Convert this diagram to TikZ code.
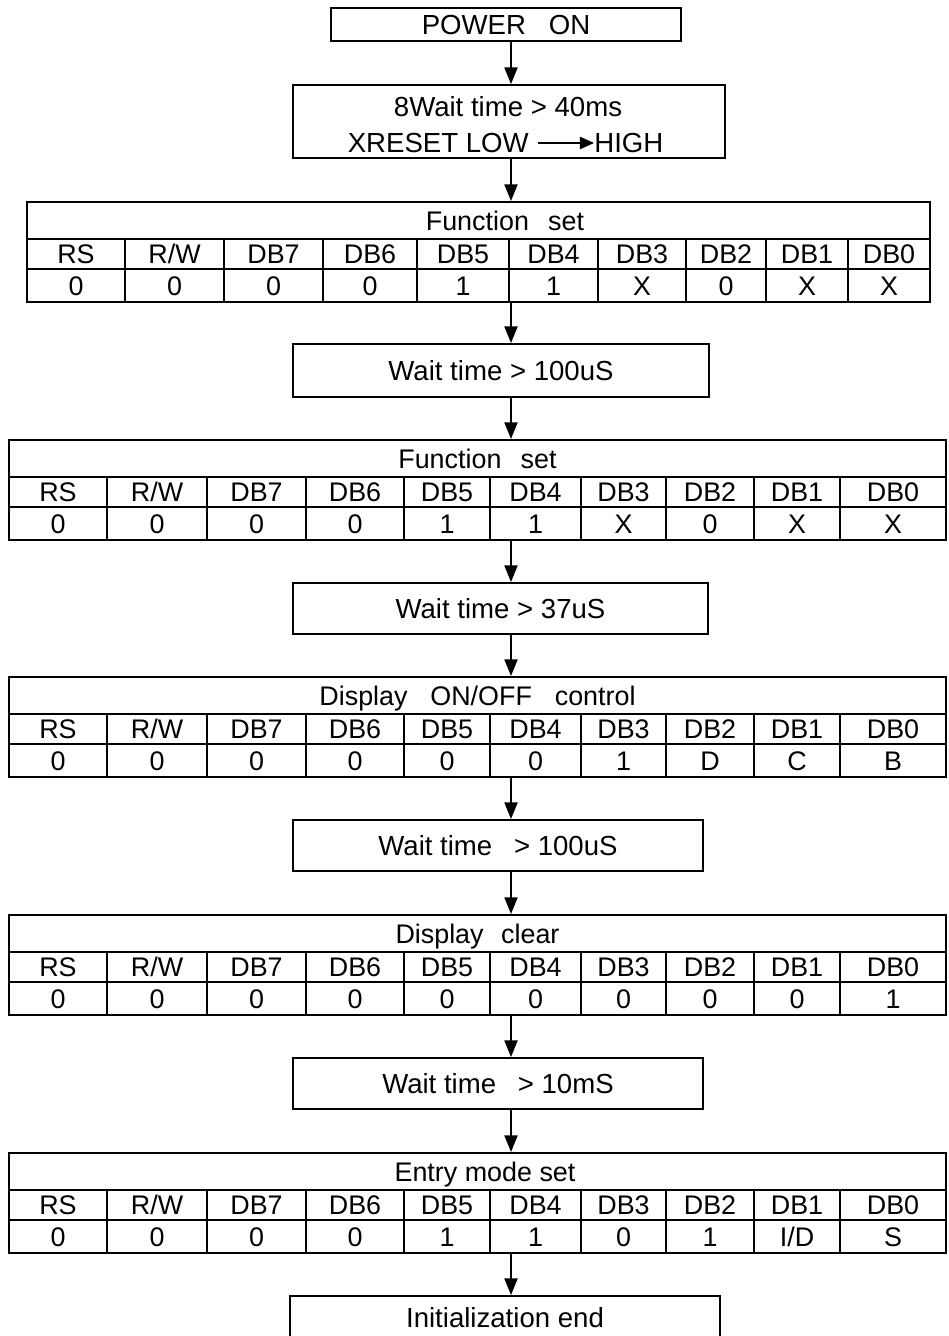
\documentclass[tikz,border=0pt]{standalone}
\usepackage{fontspec}
\setmainfont{Liberation Sans}
\usetikzlibrary{arrows.meta}
\tikzset{
  box/.style={draw, line width=1.1pt, inner sep=0pt, text height=11.2pt, text depth=0pt},
  txt/.style={inner sep=0pt, text height=11.2pt, text depth=0pt},
  cell/.style={draw, line width=0.7pt, inner sep=0pt, text height=10.9pt, text depth=0pt, font=\fontsize{15.3}{18}\selectfont},
  frame/.style={draw, line width=1.2pt, inner sep=0pt},
  flow/.style={line width=0.9pt, -{Triangle[length=9.5pt,width=7.5pt]}},
  xarrow/.style={line width=0.8pt, -{Triangle[length=8pt,width=7pt]}},
}
\newcommand\mktable[6]{%
  % #1 name, #2 top, #3 column bounds, #4 header text, #5 header x, #6 values
  \pgfmathsetmacro\tL{{#3}[0]}
  \pgfmathsetmacro\tR{{#3}[10]}
  \pgfmathsetmacro\tC{(\tL+\tR)/2}
  \pgfmathsetmacro\tW{(\tR-\tL)*0.02}
  \node[cell, minimum width=\tW cm, minimum height=0.74cm] (#1-h) at (\tC,#2+18.5) {};
  \node[txt, font=\fontsize{15.3}{18}\selectfont] (#1-ht) at (#5,#2+19) {#4};
  \foreach \lab [count=\i from 0] in {RS,R/W,DB7,DB6,DB5,DB4,DB3,DB2,DB1,DB0}{
    \pgfmathsetmacro\xa{{#3}[\i]}
    \pgfmathsetmacro\xb{{#3}[\i+1]}
    \pgfmathsetmacro\xm{(\xa+\xb)/2}
    \pgfmathsetmacro\cw{(\xb-\xa)*0.02}
    \node[cell, minimum width=\cw cm, minimum height=0.6cm] (#1-l\i) at (\xm,#2+52) {\lab};
  }
  \foreach \val [count=\i from 0] in {#6}{
    \pgfmathsetmacro\xa{{#3}[\i]}
    \pgfmathsetmacro\xb{{#3}[\i+1]}
    \pgfmathsetmacro\xm{(\xa+\xb)/2}
    \pgfmathsetmacro\cw{(\xb-\xa)*0.02}
    \node[cell, minimum width=\cw cm, minimum height=0.66cm] (#1-v\i) at (\xm,#2+83.5) {\val};
  }
  \node[frame, minimum width=\tW cm, minimum height=2cm] (#1) at (\tC,#2+50) {};
}
\begin{document}
\begin{tikzpicture}[x=0.02cm, y=-0.02cm, every node/.append style={font=\fontsize{15.7}{19}\selectfont}]
\useasboundingbox (0,0) rectangle (948,1336);
\coordinate (ax) at (511,0);

\node[box, minimum width=7cm, minimum height=0.66cm] (pon) at (506,24.5) {POWER\hspace*{13pt}ON};

\node[box, minimum width=8.64cm, minimum height=1.46cm] (rst) at (509,121.5) {};
\node[txt] (rst1) at (508,107) {8Wait time > 40ms};
\node[txt, anchor=east] (rstlo) at (529,143) {XRESET LOW};
\node[txt, anchor=west] (rsthi) at (594,143) {HIGH};
\draw[xarrow] ([xshift=5pt]rstlo.east) -- (rsthi.west);

\mktable{t1}{202}{27,125,224,323,417,509,598,686,766,848,930}{Function\hspace*{11pt}set}{505}{0,0,0,0,1,1,X,0,X,X}

\node[box, minimum width=8.32cm, minimum height=1.06cm] (w1) at (501,370.5) {Wait time > 100uS};

\mktable{t2}{440}{9,107,207,306,404,490,581,666,754,840,946}{Function\hspace*{11pt}set}{477.5}{0,0,0,0,1,1,X,0,X,X}

\node[box, minimum width=8.3cm, minimum height=1.02cm] (w2) at (500.5,608.5) {Wait time > 37uS};

\mktable{t3}{677}{9,107,207,306,404,490,581,666,754,840,946}{Display\hspace*{13pt}ON/OFF\hspace*{13pt}control}{477.5}{0,0,0,0,0,0,1,D,C,B}

\node[box, minimum width=8.2cm, minimum height=1.02cm] (w3) at (498,845.5) {Wait time\hspace*{8pt} > 100uS};

\mktable{t4}{915}{9,107,207,306,404,490,581,666,754,840,946}{Display\hspace*{10pt}clear}{477.5}{0,0,0,0,0,0,0,0,0,1}

\node[box, minimum width=8.2cm, minimum height=1.02cm] (w4) at (498,1083.5) {Wait time\hspace*{8pt} > 10mS};

\mktable{t5}{1153}{9,107,207,306,404,490,581,666,754,840,946}{Entry mode set}{485}{0,0,0,0,1,1,0,1,I/D,S}

\node[box, minimum width=8.6cm, minimum height=0.88cm] (fin) at (505,1318) {Initialization end};

\draw[flow] (pon.south -| ax) -- (rst.north -| ax);
\draw[flow] (rst.south -| ax) -- (t1.north -| ax);
\draw[flow] (t1.south -| ax) -- (w1.north -| ax);
\draw[flow] (w1.south -| ax) -- (t2.north -| ax);
\draw[flow] (t2.south -| ax) -- (w2.north -| ax);
\draw[flow] (w2.south -| ax) -- (t3.north -| ax);
\draw[flow] (t3.south -| ax) -- (w3.north -| ax);
\draw[flow] (w3.south -| ax) -- (t4.north -| ax);
\draw[flow] (t4.south -| ax) -- (w4.north -| ax);
\draw[flow] (w4.south -| ax) -- (t5.north -| ax);
\draw[flow] (t5.south -| ax) -- (fin.north -| ax);
\end{tikzpicture}
\end{document}
